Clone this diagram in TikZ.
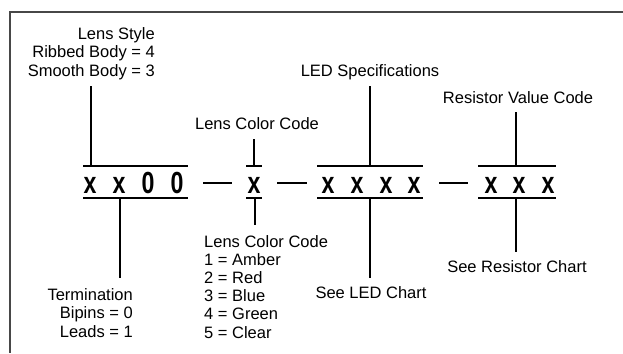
\documentclass[tikz,border=0pt]{standalone}
\usepackage{fontspec}
\usepackage{graphicx}
\setmainfont{Liberation Sans}
\begin{document}
\begin{tikzpicture}[x=1pt,y=-1pt,
  frame/.style={draw=black!72,line width=1.2pt},
  rule/.style={draw=black,line width=1.8pt},
  lbl/.style={inner sep=0pt,font=\fontsize{16.5}{18.2}\selectfont},
  code/.style={inner sep=0pt,anchor=base,font=\fontsize{30.5}{31}\selectfont\bfseries}]
\useasboundingbox (0,0) rectangle (623,353);
\fill[white] (0,0) rectangle (623,353);
% frame
\draw[frame] (623,12) -- (10,12) -- (10,353);
% code characters
\newcommand{\cx}[1]{\scalebox{0.76}[1]{#1}}
\node[code] (c1) at (90,193.5) {\cx{x}};
\node[code] (c2) at (119,193.5) {\cx{x}};
\node[code] (c3) at (148,193.5) {\cx{0}};
\node[code] (c4) at (177,193.5) {\cx{0}};
\node[code] (c5) at (254,193.5) {\cx{x}};
\node[code] (c6) at (328,193.5) {\cx{x}};
\node[code] (c7) at (357,193.5) {\cx{x}};
\node[code] (c8) at (386,193.5) {\cx{x}};
\node[code] (c9) at (414,193.5) {\cx{x}};
\node[code] (c10) at (491,193.5) {\cx{x}};
\node[code] (c11) at (519,193.5) {\cx{x}};
\node[code] (c12) at (548,193.5) {\cx{x}};
% over/under lines
\coordinate (g1a) at (83,166); \coordinate (g1b) at (188,166);
\coordinate (g1c) at (83,198); \coordinate (g1d) at (188,198);
\coordinate (g2a) at (246,166); \coordinate (g2b) at (262,166);
\coordinate (g2c) at (246,198); \coordinate (g2d) at (262,198);
\coordinate (g3a) at (317,166); \coordinate (g3b) at (423,166);
\coordinate (g3c) at (317,198); \coordinate (g3d) at (423,198);
\coordinate (g4a) at (478,166); \coordinate (g4b) at (556,166);
\coordinate (g4c) at (478,198); \coordinate (g4d) at (556,198);
\draw[rule] (g1a) -- (g1b); \draw[rule] (g1c) -- (g1d);
\draw[rule] (g2a) -- (g2b); \draw[rule] (g2c) -- (g2d);
\draw[rule] (g3a) -- (g3b); \draw[rule] (g3c) -- (g3d);
\draw[rule] (g4a) -- (g4b); \draw[rule] (g4c) -- (g4d);
% dashes
\coordinate (d1a) at (203,183); \coordinate (d1b) at (232,183);
\coordinate (d2a) at (277,183); \coordinate (d2b) at (307,183);
\coordinate (d3a) at (439,183); \coordinate (d3b) at (468,183);
\draw[rule] (d1a) -- (d1b);
\draw[rule] (d2a) -- (d2b);
\draw[rule] (d3a) -- (d3b);
% labels (multi-line nodes anchored at last baseline)
\node[lbl,anchor=base east,align=right] (lensstyle) at (155,76) {Lens Style\\Ribbed Body = 4\\Smooth Body = 3};
\node[lbl,anchor=base] (ledspec) at (370,77) {LED Specifications};
\node[lbl,anchor=base] (lcctop) at (257,129) {Lens Color Code};
\node[lbl,anchor=base] (resval) at (518,103) {Resistor Value Code};
\node[lbl,anchor=base east,align=right] (term) at (133,337) {Termination\\Bipins = 0\\Leads = 1};
\node[lbl,anchor=base west,align=left] (lccbot) at (204,338) {Lens Color Code\\1 = Amber\\2 = Red\\3 = Blue\\4 = Green\\5 = Clear};
\node[lbl,anchor=base] (ledchart) at (371,298) {See LED Chart};
\node[lbl,anchor=base] (reschart) at (517,272) {See Resistor Chart};
% connectors
\coordinate (t1) at (91,86);  \coordinate (b1) at (91,166);
\coordinate (t2) at (120,198); \coordinate (b2) at (120,278);
\coordinate (t3) at (254,139); \coordinate (b3) at (254,166);
\coordinate (t4) at (255,198); \coordinate (b4) at (255,225);
\coordinate (t5) at (370,86); \coordinate (b5) at (370,166);
\coordinate (t6) at (370,198); \coordinate (b6) at (370,278);
\coordinate (t7) at (516,112); \coordinate (b7) at (516,166);
\coordinate (t8) at (516,198); \coordinate (b8) at (516,252);
\draw[rule] (t1) -- (b1);
\draw[rule] (t2) -- (b2);
\draw[rule] (t3) -- (b3);
\draw[rule] (t4) -- (b4);
\draw[rule] (t5) -- (b5);
\draw[rule] (t6) -- (b6);
\draw[rule] (t7) -- (b7);
\draw[rule] (t8) -- (b8);
\end{tikzpicture}
\end{document}
